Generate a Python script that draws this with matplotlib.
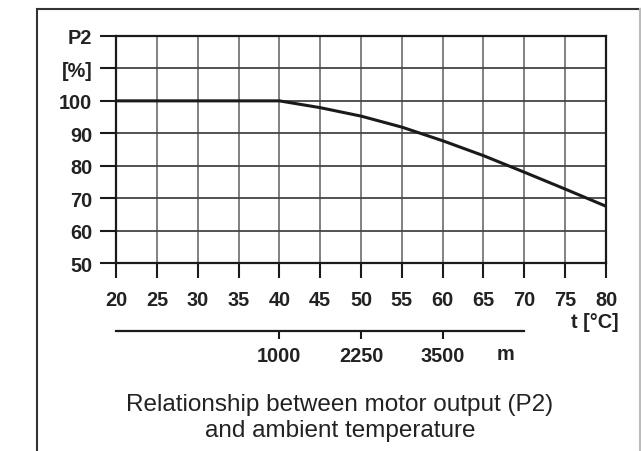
import matplotlib
matplotlib.use('Agg')
import matplotlib.pyplot as plt
from matplotlib.lines import Line2D

plt.rcParams['font.family'] = ['Liberation Sans', 'DejaVu Sans']

# 温度 / 电机输出
temps = [20, 25, 30, 35, 40, 45, 50, 55, 60, 65, 70, 75, 80]
p2 = [100, 100, 100, 100, 100, 97.9, 95.3, 91.9, 87.7, 83.1, 78.0, 72.8, 67.5]

y_ticks = [50, 60, 70, 80, 90, 100, 110, 120]
y_labels = ['50', '60', '70', '80', '90', '100', '[%]', 'P2']

# 海拔副轴
alt_pos = [40, 50, 60]
alt_labels = ['1000', '2250', '3500']

W, H = 641, 452
fs = 14.3
fig = plt.figure(figsize=(W / 100, H / 100), dpi=100)

ax = fig.add_axes([116 / W, 1 - 264 / H, (606 - 116) / W, (264 - 37) / H])
ax.plot(temps, p2, color='#1a1a1a', lw=2.2, solid_capstyle='butt', zorder=3)
ax.set_xlim(20, 80)
ax.set_ylim(50, 120)
ax.set_xticks(temps)
ax.set_yticks(y_ticks)
ax.set_yticklabels(y_labels)
ax.grid(True, axis='x', color='#777777', lw=1.3)
ax.grid(True, axis='y', color='#444444', lw=1.3)
for s in ax.spines.values():
    s.set_color('#1a1a1a')
    s.set_linewidth(1.6)
ax.tick_params(axis='x', length=11, width=1.5, color='#1a1a1a', pad=8.5,
               labelsize=fs, labelcolor='#222222')
ax.tick_params(axis='y', length=11.5, width=1.5, color='#1a1a1a', pad=5.5,
               labelsize=fs, labelcolor='#222222')
for lab in ax.get_xticklabels() + ax.get_yticklabels():
    lab.set_fontweight('bold')

# 副轴 (m)
ax2 = fig.add_axes([116 / W, 1 - 331.5 / H, (606 - 116) / W, 0.001])
ax2.set_xlim(20, 80)
ax2.set_yticks([])
for k in ['top', 'left', 'right']:
    ax2.spines[k].set_visible(False)
ax2.spines['bottom'].set_bounds(20, 70)
ax2.spines['bottom'].set_color('#1a1a1a')
ax2.spines['bottom'].set_linewidth(1.6)
ax2.patch.set_visible(False)
ax2.set_xticks(alt_pos)
ax2.set_xticklabels(alt_labels)
ax2.tick_params(axis='x', length=6, width=1.5, color='#1a1a1a', pad=5,
                labelsize=fs, labelcolor='#222222')
for lab in ax2.get_xticklabels():
    lab.set_fontweight('bold')

fig.text(505 / W, 1 - 355 / H, 'm', ha='center', va='center',
         fontsize=fs, fontweight='bold', color='#222222')
fig.text(619 / W, 1 - 323 / H, 't [°C]', ha='right', va='center',
         fontsize=fs, fontweight='bold', color='#222222')

fig.text(340 / W, 1 - 418 / H,
         'Relationship between motor output (P2)\nand ambient temperature',
         ha='center', va='center', fontsize=17.5, color='#222222',
         linespacing=1.18)

# 外框
fig.add_artist(Line2D([37 / W, 37 / W], [0, 1 - 9.5 / H], transform=fig.transFigure,
                      color='#333333', lw=1.5))
fig.add_artist(Line2D([37 / W, 639.5 / W], [1 - 9.5 / H, 1 - 9.5 / H],
                      transform=fig.transFigure, color='#333333', lw=1.5))
fig.add_artist(Line2D([639.5 / W, 639.5 / W], [0, 1 - 9.5 / H], transform=fig.transFigure,
                      color='#bbbbbb', lw=1.5))

fig.savefig('out.png', dpi=100)
